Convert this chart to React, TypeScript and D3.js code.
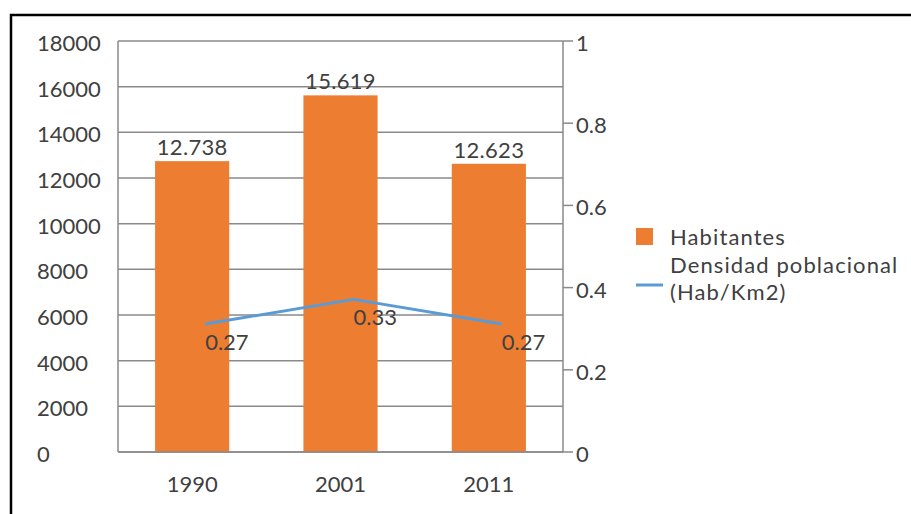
import React from "react";
import * as d3 from "d3";

const years = ["1990", "2001", "2011"];
const habitantes = [12738, 15619, 12623];
const habLabels = ["12.738", "15.619", "12.623"];
const densidad = [0.27, 0.33, 0.27];
const densLabels = ["0.27", "0.33", "0.27"];
const leftTicks = [0, 2000, 4000, 6000, 8000, 10000, 12000, 14000, 16000, 18000];
const rightTicks = [0, 0.2, 0.4, 0.6, 0.8, 1];
const rightTickLabels = ["0", "0.2", "0.4", "0.6", "0.8", "1"];
const seriesNames = ["Habitantes", "Densidad poblacional", "(Hab/Km2)"];

const W = 911;
const H = 514;
const left = 118;
const right = 563;
const top = 41;
const bottom = 452;
const FONT = "Lato, 'Open Sans', sans-serif";
const TEXT = "#404040";
const GRID = "#8a8a8a";
const ORANGE = "#ED7D31";
const BLUE = "#5B9BD5";

export default function App() {
  const x = d3.scaleBand<string>().domain(years).range([left, right]).paddingInner(0.5).paddingOuter(0.25);
  const yL = d3.scaleLinear().domain([0, 18000]).range([bottom, top]);
  const yR = d3.scaleLinear().domain([0, 1]).range([bottom, top]);
  // line layer appears shifted in the reference (secondary layer)
  const lineDx = 13;
  const yLine = d3.scaleLinear().domain([0, 1]).range([bottom - 17, top - 17]);
  const bw = x.bandwidth();
  const cx = (y: string) => (x(y) as number) + bw / 2;

  const lineGen = d3
    .line<number>()
    .x((_, i) => cx(years[i]) + lineDx)
    .y((d) => yLine(d));

  return (
    <svg
      width={W}
      height={H}
      style={{ position: "absolute", left: 0, top: 0, background: "#fff" }}
      fontFamily={FONT}
    >
      <rect x={0} y={0} width={W} height={H} fill="#fff" />
      {/* frame */}
      <path d={`M11,${H + 5} V15 H${W + 5}`} fill="none" stroke="#000" strokeWidth={2.5} />

      {/* gridlines */}
      {leftTicks.map((t) => (
        <line key={"g" + t} x1={left} x2={right} y1={yL(t)} y2={yL(t)} stroke={GRID} strokeWidth={1.5} />
      ))}
      {/* left axis labels */}
      {leftTicks.map((t) => (
        <text key={"l" + t} x={37} y={yL(t)} dy="0.45em" fontSize={22} fill={TEXT}>
          {String(t)}
        </text>
      ))}

      {/* bars */}
      {years.map((yr, i) => (
        <rect
          key={"b" + yr}
          x={x(yr)}
          y={yL(habitantes[i])}
          width={bw}
          height={bottom - yL(habitantes[i])}
          fill={ORANGE}
        />
      ))}
      {years.map((yr, i) => (
        <text
          key={"bl" + yr}
          x={cx(yr)}
          y={yL(habitantes[i]) - 6}
          textAnchor="middle"
          fontSize={22}
          letterSpacing={0.3}
          fill={TEXT}
        >
          {habLabels[i]}
        </text>
      ))}

      {/* axes lines */}
      <line x1={left} x2={left} y1={top} y2={bottom} stroke={GRID} strokeWidth={1.5} />
      <line x1={right} x2={right} y1={top} y2={bottom} stroke={GRID} strokeWidth={1.5} />
      <line x1={left} x2={right} y1={bottom} y2={bottom} stroke={GRID} strokeWidth={1.5} />
      {rightTicks.map((t, i) => (
        <g key={"r" + t}>
          <line x1={right} x2={right + 10} y1={yR(t)} y2={yR(t)} stroke={GRID} strokeWidth={1.5} />
          <text x={right + 13} y={yR(t)} dy="0.45em" fontSize={22} fill={TEXT}>
            {rightTickLabels[i]}
          </text>
        </g>
      ))}

      {/* x labels */}
      {years.map((yr) => (
        <text key={"x" + yr} x={cx(yr)} y={492} textAnchor="middle" fontSize={22} fill={TEXT}>
          {yr}
        </text>
      ))}

      {/* density line */}
      <path d={lineGen(densidad) || ""} fill="none" stroke={BLUE} strokeWidth={3} strokeLinejoin="round" />
      {years.map((yr, i) => (
        <text
          key={"dl" + yr}
          x={cx(yr) + lineDx}
          y={yR(densidad[i])}
          dy="0.4em"
          fontSize={22}
          fill={TEXT}
        >
          {densLabels[i]}
        </text>
      ))}

      {/* legend */}
      <rect x={636} y={228} width={17} height={17} fill={ORANGE} />
      <text x={670} y={245} fontSize={22} letterSpacing={1.1} fill={TEXT}>
        {seriesNames[0]}
      </text>
      <line x1={636} x2={663} y1={285} y2={285} stroke={BLUE} strokeWidth={3} />
      <text x={670} y={273} fontSize={22} letterSpacing={1.1} fill={TEXT}>
        {seriesNames[1]}
      </text>
      <text x={670} y={300} fontSize={22} letterSpacing={1.1} fill={TEXT}>
        {seriesNames[2]}
      </text>
    </svg>
  );
}
